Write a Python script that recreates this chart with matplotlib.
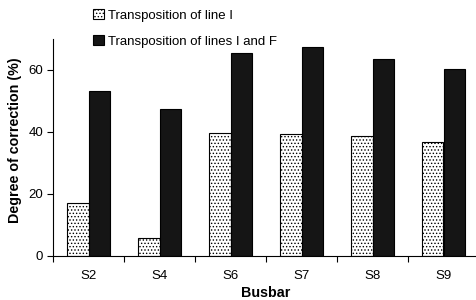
import matplotlib
matplotlib.use("Agg")
import matplotlib.pyplot as plt
import numpy as np

categories = ["S2", "S4", "S6", "S7", "S8", "S9"]
line_I = [17.2, 5.8, 39.8, 39.2, 38.8, 36.7]
lines_I_F = [53.3, 47.5, 65.6, 67.5, 63.6, 60.3]
labels = ["Transposition of line I", "Transposition of lines I and F"]

plt.rcParams['font.family'] = ['Liberation Sans', 'DejaVu Sans']
plt.rcParams['hatch.color'] = '#888888'
plt.rcParams['hatch.linewidth'] = 0.6

fig = plt.figure(figsize=(4.76, 3.0), dpi=100)
ax = fig.add_axes([53/476, 1-256/300, (479-53)/476, (256-39)/300])

x = np.arange(len(categories))
w = 0.3
b1 = ax.bar(x - w/2, line_I, w, facecolor='white', edgecolor='black', linewidth=0.8,
            hatch='.....', label=labels[0])
b2 = ax.bar(x + w/2, lines_I_F, w, facecolor='#151515', edgecolor='black', linewidth=0.8,
            label=labels[1])

ax.set_xlim(-0.5, len(categories) - 0.5)
ax.set_ylim(0, 70)
ax.set_yticks([0, 20, 40, 60])
ax.set_xticks(x)
ax.set_xticklabels(categories)
ax.set_xticks(np.arange(-0.5, len(categories)), minor=True)
ax.tick_params(axis='x', which='major', length=0, pad=10, labelsize=9.5)
ax.tick_params(axis='x', which='minor', length=4, direction='out', width=0.8)
ax.tick_params(axis='y', length=4, direction='out', width=0.8, labelsize=9.5, pad=3)
for s in ['top', 'right']:
    ax.spines[s].set_visible(False)
for s in ['left', 'bottom']:
    ax.spines[s].set_linewidth(0.8)

ax.set_xlabel("Busbar", fontweight='bold', fontsize=10.3, labelpad=3)
ax.set_ylabel("Degree of correction (%)", fontweight='bold', fontsize=10.3)
ax.yaxis.set_label_coords(-0.072, 0.535)

fig.legend(handles=[b1, b2], labels=labels, loc='upper left', bbox_to_anchor=(84/476, 1.0),
           frameon=False, fontsize=9.5, labelspacing=1.0, handlelength=0.8, handleheight=0.8,
           handletextpad=0.3, borderaxespad=0.3)

fig.savefig("out.png", dpi=100)
